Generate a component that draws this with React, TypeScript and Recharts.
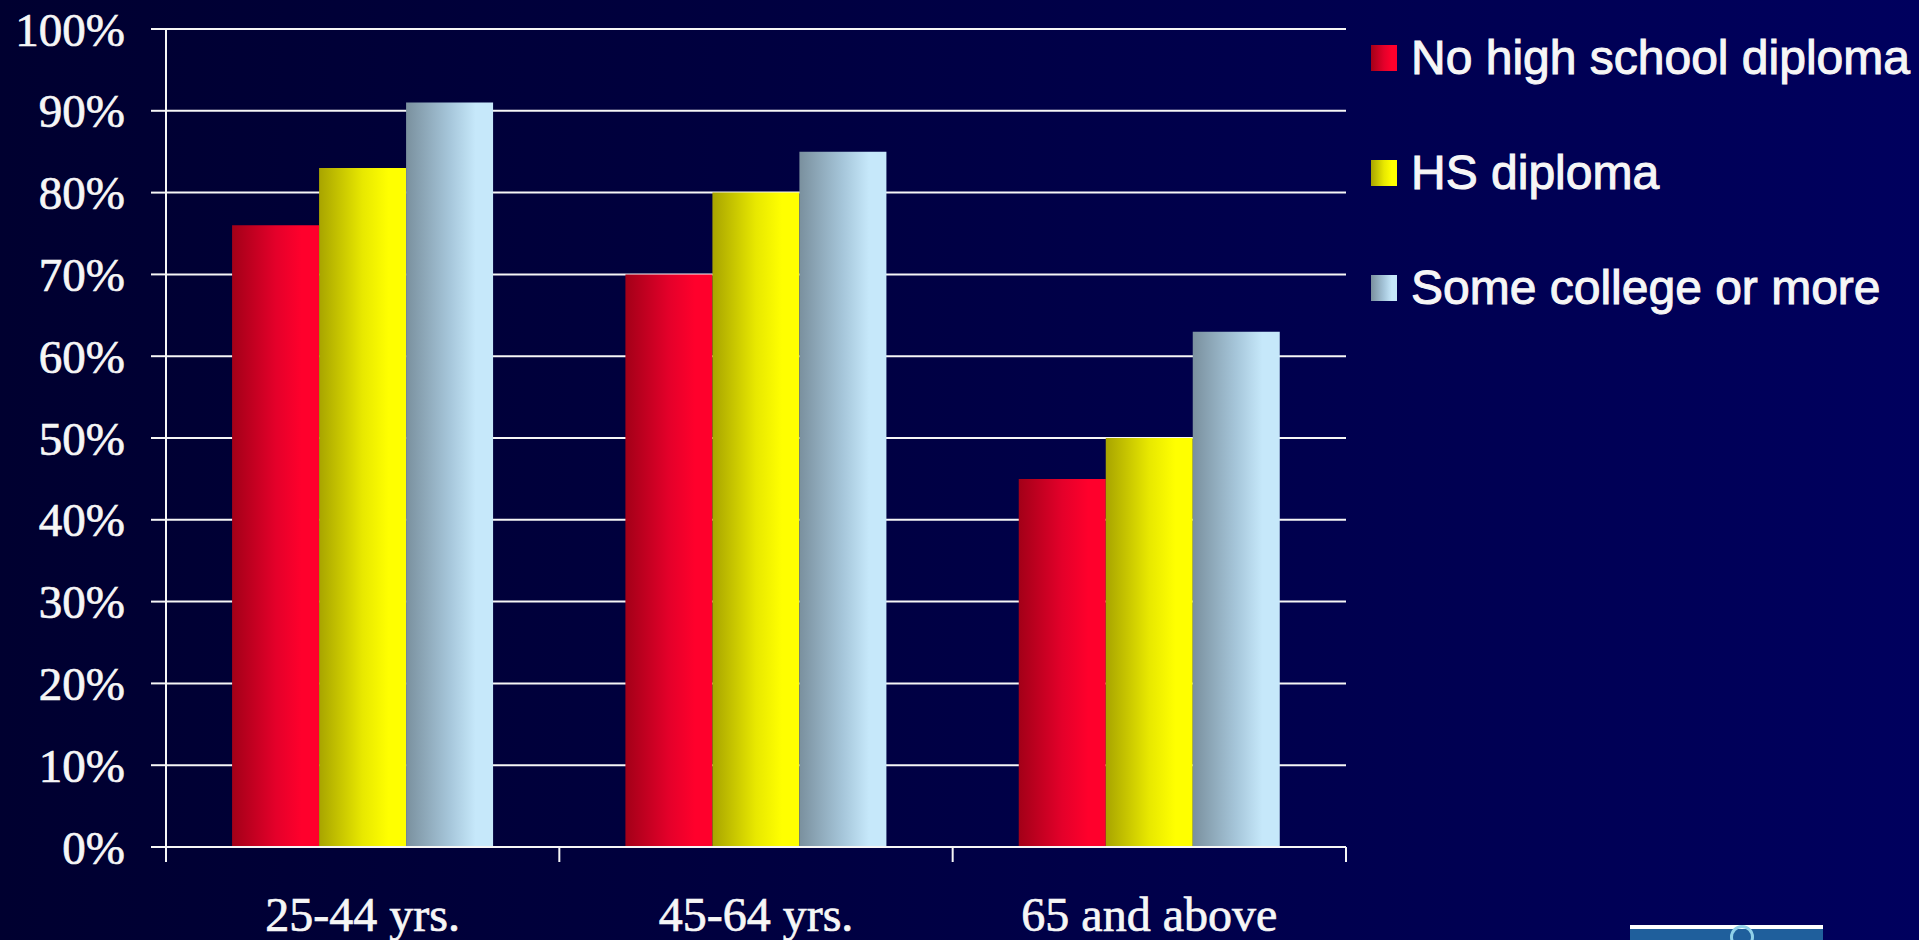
import { Bar, BarChart, CartesianGrid, Legend, XAxis, YAxis } from "recharts";

// age groups along the bottom
const ageGroups = ["25-44 yrs.", "45-64 yrs.", "65 and above"];
// midpoint of each group on the 0..3 edge axis
const groupMids = [0.5, 1.5, 2.5];
const edgeTicks = [0, 0.5, 1, 1.5, 2, 2.5, 3];

// percent values per series
const noDiploma = [76, 70, 45];
const hsDiploma = [83, 80, 50];
const someCollege = [91, 85, 63];

const yTicks = [0, 10, 20, 30, 40, 50, 60, 70, 80, 90, 100];

const series = [
  { key: "noDiploma", name: "No high school diploma", grad: "gradRed", stops: ["#a30018", "#e4002a", "#ff002c"] },
  { key: "hsDiploma", name: "HS diploma", grad: "gradYellow", stops: ["#a8a400", "#e8e800", "#ffff00"] },
  { key: "someCollege", name: "Some college or more", grad: "gradBlue", stops: ["#7a909e", "#a6c6da", "#c6e8fa"] },
];

const data = ageGroups.map((g, i) => ({
  group: g,
  mid: groupMids[i],
  noDiploma: noDiploma[i],
  hsDiploma: hsDiploma[i],
  someCollege: someCollege[i],
}));

const WHITE = "#f6f6f6";

// bottom axis: small ticks on the group edges, labels in the middle
const EdgeTick = (props: any) => {
  const { x, y, payload } = props;
  const v = payload.value;
  if (Number.isInteger(v)) {
    return <line x1={x} x2={x} y1={y} y2={y + 15} stroke={WHITE} strokeWidth={2} />;
  }
  return (
    <text
      x={x}
      y={y + 84}
      textAnchor="middle"
      fill={WHITE}
      stroke={WHITE}
      strokeWidth={0.7}
      fontSize={48}
      fontFamily="'Liberation Serif', 'Times New Roman', serif"
    >
      {ageGroups[Math.floor(v)]}
    </text>
  );
};

const renderLegend = () => (
  <div style={{ display: "flex", flexDirection: "column" }}>
    {series.map((s) => (
      <div key={s.key} style={{ height: 115, display: "flex", alignItems: "center" }}>
        <div
          style={{
            width: 26,
            height: 26,
            marginRight: 14,
            background: `linear-gradient(to right, ${s.stops[0]}, ${s.stops[1]} 50%, ${s.stops[2]} 80%)`,
          }}
        />
        <span
          style={{
            color: WHITE,
            fontSize: 48,
            lineHeight: "48px",
            fontFamily: "'Liberation Sans', Arial, sans-serif",
            whiteSpace: "nowrap",
            WebkitTextStroke: `1px ${WHITE}`,
          }}
        >
          {s.name}
        </span>
      </div>
    ))}
  </div>
);

export default function App() {
  return (
    <div style={{ position: "absolute", left: 0, top: 0, width: 1930, height: 940, background: "#ffffff", overflow: "hidden" }}>
      <div
        style={{
          position: "absolute",
          left: 0,
          top: 0,
          width: 1919,
          height: 940,
          background: "linear-gradient(to right, #000030 0%, #000040 40%, #00005e 100%)",
        }}
      >
        <BarChart
          width={1919}
          height={940}
          data={data}
          margin={{ top: 29, right: 573, left: 0, bottom: 0 }}
          barCategoryGap="16.8%"
          barGap={0}
        >
          <defs>
            {series.map((s) => (
              <linearGradient key={s.grad} id={s.grad} x1="0" y1="0" x2="1" y2="0">
                <stop offset="0%" stopColor={s.stops[0]} />
                <stop offset="50%" stopColor={s.stops[1]} />
                <stop offset="80%" stopColor={s.stops[2]} />
                <stop offset="100%" stopColor={s.stops[2]} />
              </linearGradient>
            ))}
          </defs>
          <CartesianGrid vertical={false} stroke={WHITE} strokeWidth={2} />
          <XAxis xAxisId="cat" dataKey="group" type="category" hide height={0} />
          <XAxis
            xAxisId="edge"
            dataKey="mid"
            type="number"
            domain={[0, 3]}
            ticks={edgeTicks}
            interval={0}
            allowDataOverflow
            height={93}
            tickLine={false}
            tickSize={0}
            tickMargin={0}
            axisLine={{ stroke: WHITE, strokeWidth: 2 }}
            tick={<EdgeTick />}
          />
          <YAxis
            width={166}
            domain={[0, 100]}
            ticks={yTicks}
            interval={0}
            tickFormatter={(v: number) => `${v}%`}
            tickSize={15}
            tickMargin={26}
            axisLine={{ stroke: WHITE, strokeWidth: 2 }}
            tickLine={{ stroke: WHITE, strokeWidth: 2 }}
            tick={{ fill: WHITE, stroke: WHITE, strokeWidth: 0.7, fontSize: 47, fontFamily: "'Liberation Serif', 'Times New Roman', serif" }}
          />
          <Legend
            layout="vertical"
            verticalAlign="middle"
            align="center"
            wrapperStyle={{ left: 1371, top: 0, width: 548 }}
            content={renderLegend}
          />
          {series.map((s) => (
            <Bar
              key={s.key}
              xAxisId="cat"
              dataKey={s.key}
              name={s.name}
              fill={`url(#${s.grad})`}
              isAnimationActive={false}
            />
          ))}
        </BarChart>
      </div>
      {/* cropped logo in the corner */}
      <div style={{ position: "absolute", left: 1630, top: 925, width: 193, height: 15, background: "#ffffff" }}>
        <div style={{ position: "absolute", left: 0, top: 4, width: 193, height: 11, background: "#1f5f9c" }} />
        <div style={{ position: "absolute", left: 100, top: 0, width: 24, height: 24, borderRadius: 12, border: "3px solid #8fd0e8", boxSizing: "border-box" }} />
      </div>
    </div>
  );
}
